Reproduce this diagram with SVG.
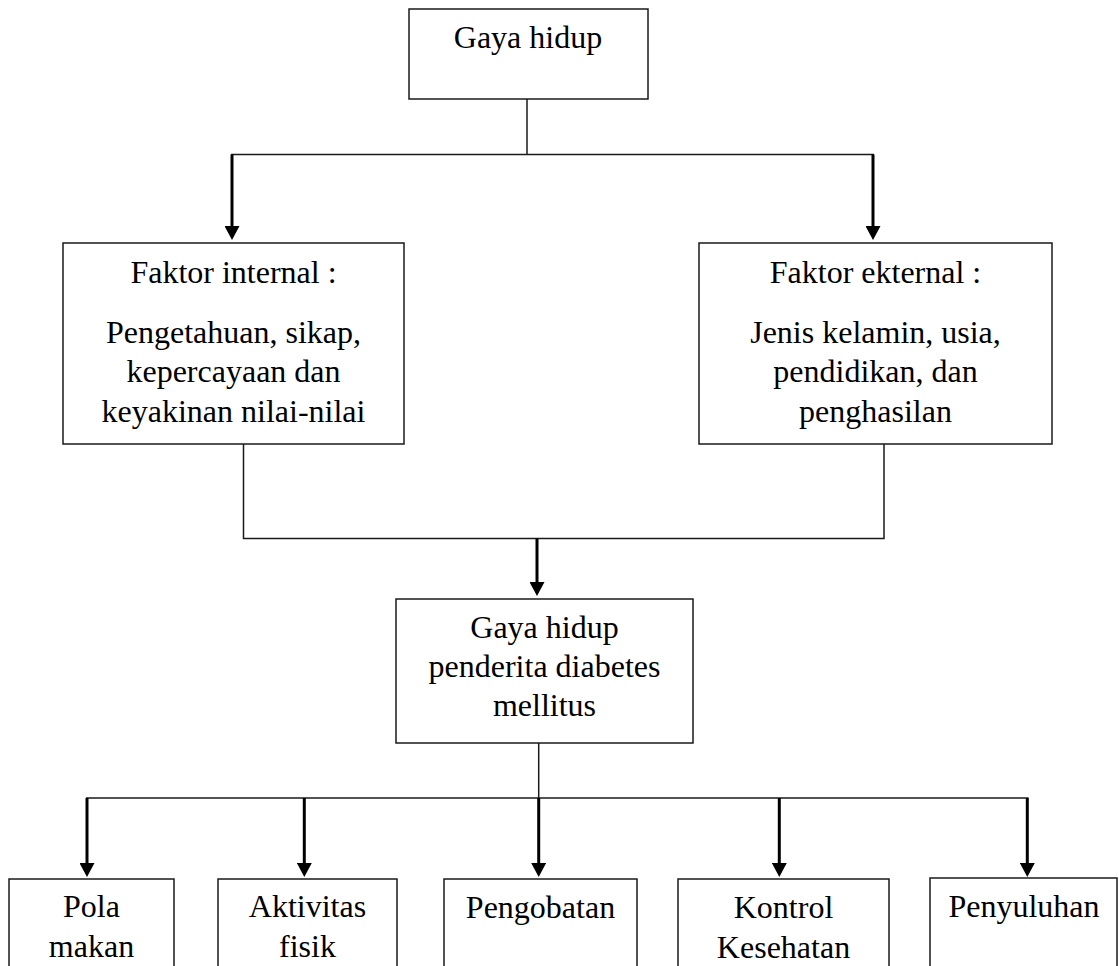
<svg xmlns="http://www.w3.org/2000/svg" width="1119" height="966" viewBox="0 0 1119 966">
<style>
.box{fill:#fff;stroke:#1a1a1a;stroke-width:1.5}
.t{font-family:'Liberation Serif','DejaVu Serif',serif;font-size:32px;fill:#000;text-anchor:middle}
.thin{fill:none;stroke:#1a1a1a;stroke-width:1.5}
.arr{fill:none;stroke:#000;stroke-width:3;marker-end:url(#ah)}
</style>
<defs>
<marker id="ah" viewBox="0 0 14 15" refX="4" refY="7.5" markerWidth="14" markerHeight="15" markerUnits="userSpaceOnUse" orient="auto">
<path d="M0,0 L14,7.5 L0,15 Z" fill="#000"/>
</marker>
</defs>
<rect width="1119" height="966" fill="#fff"/>
<g id="connectors">
<path class="thin" d="M527,99 V154.5"/>
<path class="thin" d="M231,154.5 H874"/>
<path class="thin" d="M243.5,444 V538.5 H884 V444"/>
<path class="thin" d="M538.7,743 V798"/>
<path class="thin" d="M86,798 H1028.5"/>
<path class="arr" d="M232,154.5 V230"/>
<path class="arr" d="M873,154.5 V230"/>
<path class="arr" d="M537,538.5 V586"/>
<path class="arr" d="M87,798 V867"/>
<path class="arr" d="M304.3,798 V867"/>
<path class="arr" d="M538.7,798 V867"/>
<path class="arr" d="M779.3,798 V867"/>
<path class="arr" d="M1027.3,798 V867"/>
</g>
<g id="gaya-hidup">
<rect class="box" x="409" y="9" width="239" height="90"/>
<text class="t" x="528" y="48" font-family="Liberation Serif, serif">Gaya hidup</text>
</g>
<g id="faktor-internal">
<rect class="box" x="63" y="243" width="341" height="201"/>
<text class="t" x="233.5" y="283">Faktor internal :</text>
<text class="t" x="233.5" y="343">Pengetahuan, sikap,</text>
<text class="t" x="233.5" y="382">kepercayaan dan</text>
<text class="t" x="233.5" y="422">keyakinan nilai-nilai</text>
</g>
<g id="faktor-eksternal">
<rect class="box" x="699" y="243" width="353" height="201"/>
<text class="t" x="875.5" y="283">Faktor ekternal :</text>
<text class="t" x="875.5" y="343">Jenis kelamin, usia,</text>
<text class="t" x="875.5" y="382">pendidikan, dan</text>
<text class="t" x="875.5" y="422">penghasilan</text>
</g>
<g id="gaya-hidup-dm">
<rect class="box" x="396" y="599" width="297" height="144"/>
<text class="t" x="544.5" y="638">Gaya hidup</text>
<text class="t" x="544.5" y="677">penderita diabetes</text>
<text class="t" x="544.5" y="715.5">mellitus</text>
</g>
<g id="pola-makan">
<rect class="box" x="9" y="879" width="165" height="100"/>
<text class="t" x="91.5" y="917">Pola</text>
<text class="t" x="91.5" y="957">makan</text>
</g>
<g id="aktivitas-fisik">
<rect class="box" x="218" y="879" width="179" height="100"/>
<text class="t" x="307.5" y="917">Aktivitas</text>
<text class="t" x="307.5" y="957">fisik</text>
</g>
<g id="pengobatan">
<rect class="box" x="444" y="879" width="193" height="100"/>
<text class="t" x="540.5" y="918">Pengobatan</text>
</g>
<g id="kontrol-kesehatan">
<rect class="box" x="678" y="879" width="211" height="100"/>
<text class="t" x="783.5" y="918">Kontrol</text>
<text class="t" x="783.5" y="958">Kesehatan</text>
</g>
<g id="penyuluhan">
<rect class="box" x="930" y="878" width="187" height="100"/>
<text class="t" x="1024" y="917">Penyuluhan</text>
</g>
</svg>
